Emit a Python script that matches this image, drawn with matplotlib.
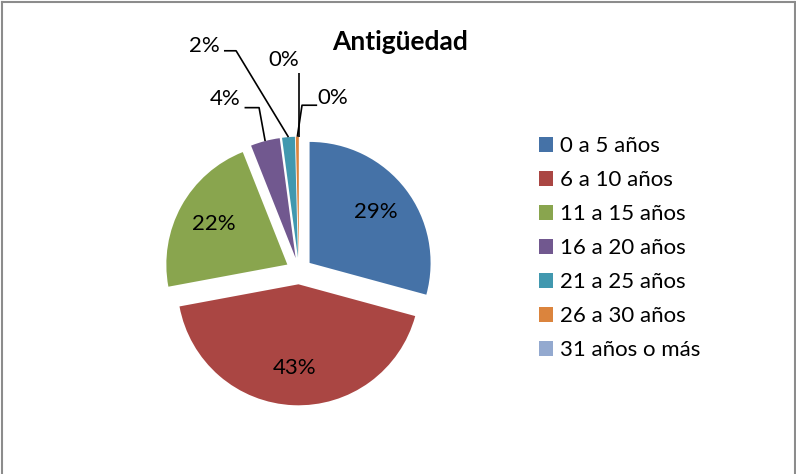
import numpy as np
import matplotlib
matplotlib.use('Agg')
import matplotlib.pyplot as plt
from matplotlib.patches import Patch

plt.rcParams['font.family'] = ['Lato', 'DejaVu Sans']

# data
categories = ['0 a 5 años', '6 a 10 años', '11 a 15 años', '16 a 20 años',
              '21 a 25 años', '26 a 30 años', '31 años o más']
values = [29.2, 42.8, 21.9, 3.9, 1.7, 0.4, 0.0]
colors = ['#4572A7', '#AA4643', '#89A54E', '#71588F', '#4198AF', '#DB843D', '#93A9CF']

W, H = 796, 474
cx, cy, R = 299, 271, 121   # pie centre / radius in pixels

fig = plt.figure(figsize=(W / 100, H / 100), dpi=100)
ax = fig.add_axes([0, 0, 1, 1])

explode = [0.11] * len(values)
wedges, _ = ax.pie(values, colors=colors, explode=explode, startangle=90,
                   counterclock=False, radius=1.0,
                   wedgeprops=dict(linewidth=0))

ax.set_xlim(-cx / R, (W - cx) / R)
ax.set_ylim(-(H - cy) / R, cy / R)
ax.set_aspect('equal')
ax.axis('off')

total = sum(values)
fs = 16


def pct(v):
    return f'{round(v / total * 100):.0f}%'


def anchor(w, r=1.0):
    a = np.deg2rad((w.theta1 + w.theta2) / 2)
    x0, y0 = w.center
    return x0 + r * np.cos(a), y0 + r * np.sin(a)


# labels inside the big slices
for w, v in zip(wedges[:3], values[:3]):
    x, y = anchor(w, 0.69)
    ax.text(x, y, pct(v), ha='center', va='center', fontsize=fs, color='black')

# small slices: label outside with a leader line
# text pos, then start and elbow of the leader relative to the text
outside = {
    3: ((-0.61, 1.42), (0.16, -0.07), (0.28, -0.07)),
    4: ((-0.78, 1.86), (0.16, -0.04), (0.26, -0.04)),
    5: ((0.28, 1.43), (-0.13, -0.06), (-0.255, -0.06)),
    6: ((-0.13, 1.74), (0.0, 0.0), (0.0, 0.0)),
}
for i, (tpos, p1, p2) in outside.items():
    w = wedges[i]
    ax.text(tpos[0], tpos[1], pct(values[i]), ha='center', va='center',
            fontsize=fs, color='black')
    ax_, ay_ = anchor(w, 1.0)
    if i == 6:
        xs = [ax_, ax_]
        ys = [tpos[1] - 0.1, ay_]
    else:
        xs = [tpos[0] + p1[0], tpos[0] + p2[0], ax_]
        ys = [tpos[1] + p1[1], tpos[1] + p2[1], ay_]
    ax.plot(xs, ys, color='black', linewidth=1.2, solid_capstyle='butt')

fig.text(400 / W, 1 - 42 / H, 'Antigüedad', ha='center', va='center',
         fontsize=19, fontweight='bold')

handles = [Patch(facecolor=c, edgecolor='none') for c in colors]
fig.legend(handles, categories, loc='upper left',
           bbox_to_anchor=(530 / W, 1 - 127 / H), frameon=False,
           fontsize=fs, handlelength=0.65, handleheight=0.65,
           handletextpad=0.3, labelspacing=0.63, borderaxespad=0)

# thin grey frame (top, left, right)
for seg in [((0.002, 0.998), (0.996, 0.996)),
            ((0.002, 0.002), (0.0, 0.996)),
            ((0.9985, 0.9985), (0.0, 0.996))]:
    fig.add_artist(plt.Line2D(seg[0], seg[1], transform=fig.transFigure,
                              color='#8c8c8c', linewidth=1.5))

fig.savefig('out.png', dpi=100)
